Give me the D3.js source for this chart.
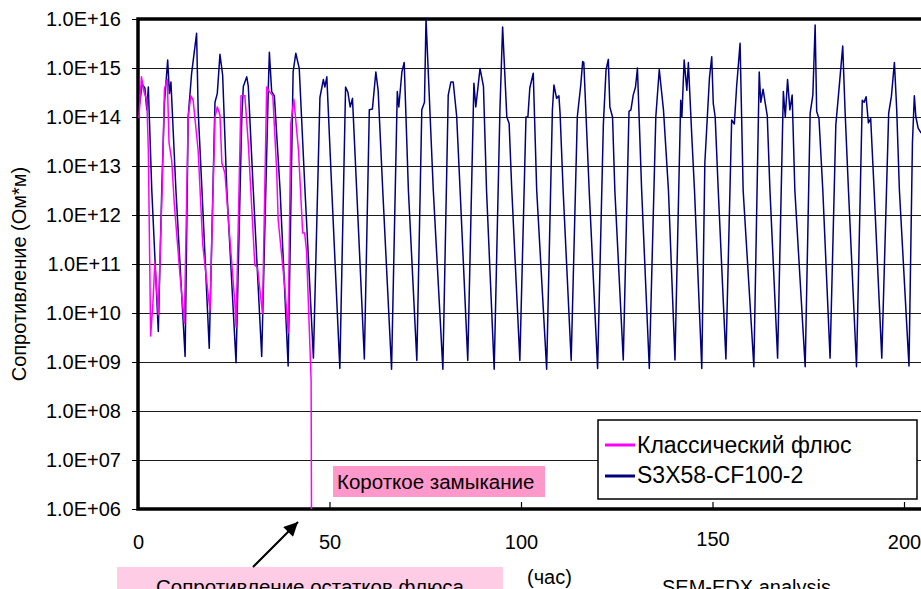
<!DOCTYPE html>
<html>
<head>
<meta charset="utf-8">
<script src="https://cdn.jsdelivr.net/npm/d3@7"></script>
<style>
  body { margin: 0; background: #fff; }
  svg text { font-family: "Liberation Sans", Arial, sans-serif; fill: #000; }
</style>
</head>
<body>
<div id="chart"></div>
<script>
// hours, resistance (Ohm*m)
var classicData = [
  [0.25, 9.5e13], [0.9, 6.6e14], [1.6, 3.2e14], [2.3, 2.2e14], [2.7, 2.1e13], [3.3, 3.4e9], [3.9, 1.6e10], [4.4, 1.1e11], [5.3, 9.1e9],
  [6.3, 3.2e12], [6.9, 3.7e14], [7.65, 5.9e14], [8.1, 3.0e13], [8.8, 1.3e13], [9.5, 1.6e12], [11.0, 5.5e10], [12.1, 6.2e9],
  [13.1, 1.0e14], [13.8, 2.7e14], [14.4, 2.2e14], [15.7, 2.1e13], [16.9, 2.5e11], [18.8, 1.1e10],
  [20.1, 1.0e14], [20.7, 1.6e14], [21.4, 1.1e14], [21.9, 1.15e13], [22.7, 7.1e12], [24.0, 3.1e11], [25.3, 1.6e10], [25.6, 5.2e9],
  [26.9, 2.7e14], [27.9, 2.7e14], [28.8, 2.9e13], [30.5, 9.5e10], [31.2, 8.5e10], [32.5, 9.8e9],
  [33.6, 4.1e14], [34.3, 3.3e14], [35.2, 2.7e14], [36.2, 8.3e12], [36.6, 7.9e11], [38.4, 3.0e10], [39.2, 3.9e9],
  [39.9, 7.4e13], [40.7, 2.3e14], [41.9, 2.1e13], [43.0, 4.3e11], [43.5, 4.3e11], [44.0, 1.9e11], [45.2, 4.3e8], [45.3, 1e6]
];

var s3xData = [
  [0.3, 1.6e14], [1.1, 4.7e14], [1.8, 3.9e14], [2.3, 1.4e14], [2.7, 4.1e14], [3.6, 3.2e12], [5.3, 4.2e9],
  [6.2, 3.2e12], [6.9, 1.9e14], [7.75, 1.45e15], [8.2, 3.0e14], [8.6, 5.2e14], [9.9, 3.2e12], [12.3, 1.3e9],
  [13.1, 1.0e14], [14.0, 7.8e14], [15.3, 5.1e15], [15.7, 1.4e14], [16.7, 3.2e12], [18.6, 1.9e9],
  [20.1, 2.0e14], [20.7, 3.0e14], [21.4, 1.9e15], [22.1, 7.2e14], [23.2, 3.2e12], [25.6, 9.7e8],
  [27.1, 1.0e14], [27.5, 4.2e14], [28.4, 6.6e14], [28.8, 4.2e14], [30.1, 3.2e12], [32.3, 1.3e9],
  [34.0, 3.3e14], [34.3, 2.1e15], [34.9, 3.3e14], [35.6, 2.7e14], [37.1, 3.2e12], [39.2, 8.3e8],
  [40.5, 8.3e14], [41.2, 2.0e15], [42.1, 9.8e14], [43.6, 3.2e12], [45.8, 1.2e9],
  [47.5, 2.5e14], [48.4, 5.8e14], [48.8, 4.1e14], [49.3, 6.6e14], [50.6, 3.2e12], [52.7, 7.4e8],
  [54.2, 4.1e14], [54.8, 3.2e14], [55.4, 1.6e14], [56.0, 2.4e14], [57.1, 3.2e12], [59.1, 1.15e9],
  [60.4, 1.4e14], [61.2, 1.45e14], [62.1, 8.3e14], [62.7, 3.5e14], [63.9, 3.2e12], [66.2, 7.1e8],
  [67.7, 3.3e14], [68.1, 1.6e14], [68.9, 8.3e14], [69.5, 1.3e15], [70.6, 3.2e12], [72.8, 1.07e9],
  [74.1, 1.4e14], [74.8, 2.0e14], [75.2, 1.0e16], [77.1, 3.2e12], [79.6, 7.1e8],
  [81.0, 2.8e14], [81.7, 5.2e14], [82.3, 5.2e14], [83.2, 1.05e14], [84.1, 3.2e12], [86.1, 1.07e9],
  [87.7, 4.9e14], [88.2, 1.6e14], [89.3, 9.8e14], [90.2, 4.2e14], [91.0, 3.2e12], [93.0, 7.1e8],
  [94.5, 1.4e14], [95.2, 6.9e15], [96.3, 1.0e14], [96.9, 7.4e13], [97.6, 3.2e12], [99.7, 1.07e9],
  [101.3, 1.0e14], [101.8, 1.0e14], [102.3, 3.9e14], [103.2, 7.8e14], [104.1, 3.2e12], [106.7, 7.1e8],
  [108.2, 1.4e14], [108.6, 4.5e14], [109.3, 2.4e14], [109.9, 2.7e14], [110.2, 1.2e14], [111.0, 3.2e12], [113.1, 1.07e9],
  [114.7, 1.0e14], [115.6, 4.5e14], [116.1, 1.35e15], [116.4, 1.3e15], [117.8, 3.2e12], [120.0, 7.4e8],
  [121.5, 6.9e13], [122.2, 9.1e14], [122.8, 1.5e15], [123.2, 1.6e14], [123.9, 1.0e14], [124.5, 3.2e12], [126.7, 1.1e9],
  [128.2, 1.3e14], [128.7, 1.4e14], [129.3, 2.8e14], [129.9, 4.1e14], [130.4, 1.0e15], [131.5, 3.2e12], [133.5, 7.4e8],
  [135.2, 1.0e14], [136.1, 9.3e14], [137.2, 1.4e14], [138.5, 3.2e12], [140.2, 1.1e9],
  [141.7, 2.2e14], [142.0, 1.0e14], [142.6, 1.45e15], [143.3, 3.5e14], [143.7, 1.3e15], [144.6, 4.0e13], [145.3, 3.2e12], [147.2, 7.4e8],
  [148.0, 1.15e13], [149.2, 6.2e14], [149.8, 1.7e15], [150.2, 1.9e14], [150.7, 1.0e14], [151.5, 3.2e12], [153.5, 1.15e9],
  [155.0, 8.7e13], [155.7, 7.2e13], [156.3, 4.2e14], [157.2, 3.2e15], [158.0, 3.2e12], [160.8, 8.0e8],
  [162.2, 8.3e14], [162.6, 2.0e14], [163.2, 3.7e14], [164.3, 1.05e14], [165.0, 3.2e12], [167.0, 1.2e9],
  [168.5, 3.3e14], [169.0, 1.0e14], [169.6, 5.8e14], [170.2, 1.4e14], [170.8, 2.8e14], [171.5, 3.2e12], [174.2, 8.0e8],
  [175.5, 1.2e14], [176.2, 2.8e14], [176.8, 7.5e15], [177.2, 1.3e14], [177.8, 9.3e13], [178.8, 3.2e12], [180.7, 1.2e9],
  [182.2, 6.9e13], [183.0, 3.5e14], [184.0, 2.8e15], [184.6, 1.4e14], [185.5, 3.2e12], [187.6, 8.0e8],
  [189.1, 2.2e14], [189.6, 2.0e14], [190.1, 2.6e14], [190.7, 7.6e13], [191.3, 9.3e13], [192.2, 3.2e12], [194.2, 1.2e9],
  [196.0, 1.2e14], [196.7, 2.6e14], [197.5, 1.3e15], [198.1, 1.4e14], [198.8, 3.2e12], [201.3, 8.3e8],
  [202.2, 2.9e13], [202.7, 2.7e14], [203.1, 1.0e14], [203.7, 5.9e13], [204.4, 4.8e13], [205.5, 4.5e13]
];

var seriesNames = ["Классический флюс", "S3X58-CF100-2"];
var seriesColors = ["#ff00ff", "#000080"];

var yTicks = [1e6, 1e7, 1e8, 1e9, 1e10, 1e11, 1e12, 1e13, 1e14, 1e15, 1e16];
var yTickLabels = ["1.0E+06", "1.0E+07", "1.0E+08", "1.0E+09", "1.0E+10", "1.0E+11",
                   "1.0E+12", "1.0E+13", "1.0E+14", "1.0E+15", "1.0E+16"];
var xTicks = [0, 50, 100, 150, 200];
var xTickLabels = ["0", "50", "100", "150", "200"];

var yTitle = "Сопротивление (Ом*м)";
var xUnit = "(час)";
var shortLabel = "Короткое замыкание";
var residueLabel = "Сопротивление остатков флюса";
var semLabel = "SEM-EDX analysis";

var width = 921, height = 589;
var plot = { left: 138, right: 921, top: 19, bottom: 509 };

var svg = d3.select("#chart").append("svg")
  .attr("width", width)
  .attr("height", height);

var x = d3.scaleLinear().domain([0, 200]).range([plot.left, 904]);
var y = d3.scaleLog().domain([1e6, 1e16]).range([plot.bottom, plot.top]);

svg.append("defs").append("clipPath")
  .attr("id", "plotClip")
  .append("rect")
  .attr("x", plot.left)
  .attr("y", plot.top - 2)
  .attr("width", plot.right - plot.left)
  .attr("height", plot.bottom - plot.top + 2);

// horizontal gridlines
svg.append("g")
  .selectAll("line")
  .data(yTicks.slice(1, -1))
  .enter()
  .append("line")
  .attr("x1", plot.left)
  .attr("x2", plot.right)
  .attr("y1", function(d) { return Math.round(y(d)) + 0.5; })
  .attr("y2", function(d) { return Math.round(y(d)) + 0.5; })
  .style("stroke", "#1a1a1a")
  .style("stroke-width", 1);

// y axis
var yAxis = svg.append("g")
  .attr("transform", "translate(" + plot.left + ",0)")
  .call(d3.axisLeft(y)
    .tickValues(yTicks)
    .tickFormat(function(d, i) { return yTickLabels[i]; })
    .tickSizeInner(6)
    .tickSizeOuter(0)
    .tickPadding(11));
yAxis.select(".domain").remove();
yAxis.selectAll("line").style("stroke", "#000");
yAxis.selectAll("text")
  .style("font-size", "20px")
  .style("font-family", "'Liberation Sans', Arial, sans-serif");

// x axis (ticks point inward)
var xAxis = svg.append("g")
  .attr("transform", "translate(0," + plot.bottom + ")")
  .call(d3.axisBottom(x)
    .tickValues(xTicks)
    .tickFormat(function(d, i) { return xTickLabels[i]; })
    .tickSizeInner(-7)
    .tickSizeOuter(0)
    .tickPadding(26));
xAxis.select(".domain").remove();
xAxis.selectAll("line").style("stroke", "#000").style("stroke-width", 1.2);
xAxis.selectAll("text")
  .style("font-size", "20px")
  .style("font-family", "'Liberation Sans', Arial, sans-serif")
  .attr("y", function(d) { return d == 150 ? 23 : 26; }); // excel put 150 a bit higher

// frame: top, left, bottom
svg.append("path")
  .attr("d", "M" + plot.right + "," + plot.top + "H" + plot.left + "V" + plot.bottom + "H" + plot.right)
  .style("fill", "none")
  .style("stroke", "#000")
  .style("stroke-width", 3.5);

// data lines
var line = d3.line()
  .x(function(d) { return x(d[0]); })
  .y(function(d) { return y(d[1]); });

var lines = svg.append("g").attr("clip-path", "url(#plotClip)");

lines.append("path")
  .datum(s3xData)
  .attr("d", line)
  .style("fill", "none")
  .style("stroke", seriesColors[1])
  .style("stroke-width", 1.5)
  .style("stroke-linejoin", "round");

lines.append("path")
  .datum(classicData)
  .attr("d", line)
  .style("fill", "none")
  .style("stroke", seriesColors[0])
  .style("stroke-width", 1.5)
  .style("stroke-linejoin", "round");

// y title
svg.append("text")
  .attr("transform", "translate(26,274) rotate(-90)")
  .style("text-anchor", "middle")
  .style("font-size", "20px")
  .text(yTitle);

// legend
var legend = svg.append("g");
legend.append("rect")
  .attr("x", 598)
  .attr("y", 420)
  .attr("width", 319)
  .attr("height", 79)
  .style("fill", "#fff")
  .style("stroke", "#000")
  .style("stroke-width", 1.5);

legend.selectAll(".lg-line")
  .data(seriesNames)
  .enter()
  .append("line")
  .attr("class", "lg-line")
  .attr("x1", 605)
  .attr("x2", 635)
  .attr("y1", function(d, i) { return 445 + i * 31; })
  .attr("y2", function(d, i) { return 445 + i * 31; })
  .style("stroke", function(d, i) { return seriesColors[i]; })
  .style("stroke-width", 3);

legend.selectAll(".lg-text")
  .data(seriesNames)
  .enter()
  .append("text")
  .attr("class", "lg-text")
  .attr("x", 637)
  .attr("y", function(d, i) { return 453 + i * 30; })
  .style("font-size", "23px")
  .text(function(d) { return d; });

// short circuit annotation
svg.append("rect")
  .attr("x", 333)
  .attr("y", 466)
  .attr("width", 212)
  .attr("height", 31)
  .style("fill", "#ff99cc");
svg.append("text")
  .attr("x", 337)
  .attr("y", 489)
  .style("font-size", "20.5px")
  .text(shortLabel);

// x unit
svg.append("text")
  .attr("x", 527)
  .attr("y", 584)
  .style("font-size", "20px")
  .text(xUnit);

// residue annotation with arrow
svg.append("rect")
  .attr("x", 117)
  .attr("y", 567)
  .attr("width", 386)
  .attr("height", 30)
  .style("fill", "#ffcce5");
svg.append("text")
  .attr("x", 310)
  .attr("y", 594)
  .style("text-anchor", "middle")
  .style("font-size", "20.5px")
  .text(residueLabel);

svg.select("defs").append("marker")
  .attr("id", "arrowHead")
  .attr("viewBox", "0 0 10 10")
  .attr("refX", 10)
  .attr("refY", 5)
  .attr("markerWidth", 16)
  .attr("markerHeight", 14)
  .attr("markerUnits", "userSpaceOnUse")
  .attr("orient", "auto")
  .append("path")
  .attr("d", "M0,0L10,5L0,10Z")
  .style("fill", "#000");

svg.append("line")
  .attr("x1", 253)
  .attr("y1", 567)
  .attr("x2", 298)
  .attr("y2", 522)
  .style("stroke", "#000")
  .style("stroke-width", 2)
  .attr("marker-end", "url(#arrowHead)");

svg.append("text")
  .attr("x", 662)
  .attr("y", 594)
  .style("font-size", "20px")
  .text(semLabel);
</script>
</body>
</html>
